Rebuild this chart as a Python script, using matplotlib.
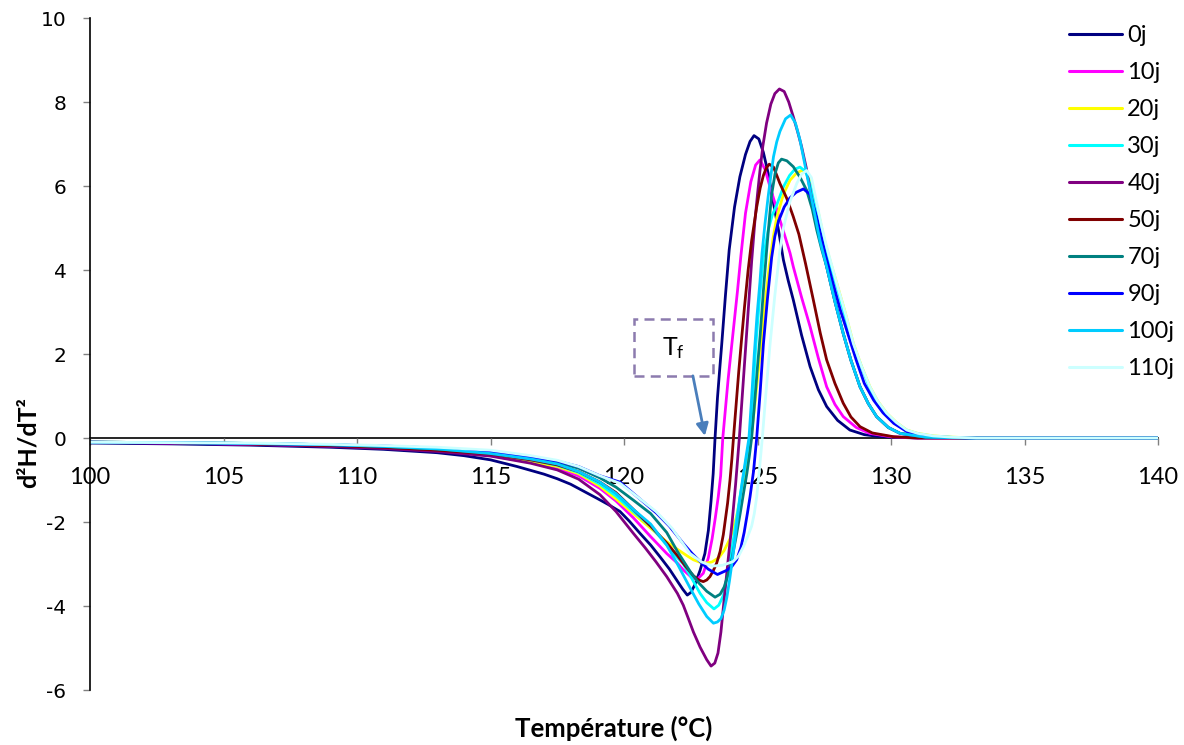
import matplotlib
matplotlib.use("Agg")
import matplotlib.pyplot as plt
from matplotlib.patches import Rectangle

plt.rcParams['font.family'] = ['Lato', 'DejaVu Sans']

labels = ['0j', '10j', '20j', '30j', '40j', '50j', '70j', '90j', '100j', '110j']
colors = ['#000080', '#FF00FF', '#FFFF00', '#00FFFF', '#800080',
          '#800000', '#008080', '#0000FF', '#00CCFF', '#CCFFFF']

t_0j = [100, 103, 106, 109, 111, 113, 114, 115, 116, 117, 117.5, 118, 118.5, 119, 119.4, 119.85, 120.2, 120.6, 121.0, 121.35,
        121.7, 121.97, 122.2, 122.37, 122.5, 122.65, 122.85, 123.03, 123.16, 123.26, 123.34, 123.41, 123.5, 123.58, 123.66,
        123.8, 123.94, 124.14, 124.34, 124.55, 124.72, 124.87, 125.05, 125.22, 125.4, 125.6, 125.8, 125.97, 126.15, 126.34,
        126.65, 126.97, 127.28, 127.59, 128.0, 128.46, 129.0, 129.5, 130.0, 131, 133, 136, 140]
v_0j = [-0.12, -0.14, -0.17, -0.22, -0.27, -0.35, -0.42, -0.52, -0.68, -0.86, -0.97, -1.1, -1.27, -1.44, -1.58, -1.75, -1.98,
        -2.27, -2.55, -2.83, -3.12, -3.38, -3.6, -3.74, -3.68, -3.5, -3.15, -2.75, -2.2, -1.5, -0.85, 0.0, 0.95, 1.6, 2.23,
        3.4, 4.48, 5.5, 6.22, 6.75, 7.06, 7.2, 7.12, 6.8, 6.3, 5.59, 4.9, 4.24, 3.75, 3.29, 2.45, 1.70, 1.15, 0.75, 0.42,
        0.19, 0.08, 0.04, 0.02, 0.0, 0.0, 0.0, 0.0]

t_10j = [100, 103, 106, 109, 111, 113, 115, 116.5, 117.5, 118.3, 119.1, 119.7, 120.35, 121.0, 121.6, 122.0, 122.22, 122.5,
         122.72, 122.97, 123.16, 123.3, 123.42, 123.53, 123.62, 123.7, 123.8, 123.9, 124.0, 124.1, 124.25, 124.38, 124.55,
         124.75, 124.93, 125.09, 125.28, 125.47, 125.65, 125.84, 126.03, 126.22, 126.34, 126.65, 126.97, 127.28, 127.59,
         127.9, 128.21, 128.7, 129.2, 130.0, 131, 133, 136, 140]
v_10j = [-0.1, -0.12, -0.15, -0.19, -0.23, -0.3, -0.42, -0.58, -0.72, -0.9, -1.2, -1.5, -1.9, -2.35, -2.75, -2.98, -3.14,
         -3.3, -3.38, -3.22, -2.85, -2.4, -1.9, -1.4, -0.9, 0.0, 0.7, 1.4, 2.0, 2.6, 3.5, 4.35, 5.35, 6.1, 6.5, 6.62, 6.4,
         5.98, 5.6, 5.19, 4.8, 4.4, 4.08, 3.35, 2.65, 1.9, 1.22, 0.8, 0.51, 0.25, 0.11, 0.03, 0, 0, 0, 0]

t_20j = [100, 103, 106, 109, 111, 113, 115, 116.5, 117.5, 118.3, 119.1, 119.7, 120.35, 121.0, 121.6, 122.0, 122.35, 122.6,
         122.85, 123.05, 123.3, 123.55, 123.75, 123.97, 124.1, 124.22, 124.32, 124.41, 124.55, 124.68, 124.78, 124.9, 125.03,
         125.16, 125.3, 125.44, 125.58, 125.72, 125.97, 126.22, 126.45, 126.65, 126.85, 127.05, 127.25, 127.5, 127.75,
         127.97, 128.3, 128.59, 128.9, 129.21, 129.5, 129.84, 130.2, 130.59, 131.0, 131.58, 132.3, 133.2, 135, 140]
v_20j = [-0.1, -0.11, -0.13, -0.17, -0.21, -0.28, -0.4, -0.56, -0.68, -0.85, -1.15, -1.45, -1.8, -2.15, -2.47, -2.65, -2.8,
         -2.9, -2.96, -2.98, -2.95, -2.85, -2.68, -2.4, -2.15, -1.85, -1.55, -1.2, -0.8, -0.35, 0.1, 0.8, 1.6, 2.4, 3.3, 4.1,
         4.75, 5.25, 5.8, 6.14, 6.3, 6.37, 6.3, 5.95, 5.45, 4.72, 4.15, 3.68, 2.95, 2.25, 1.7, 1.22, 0.88, 0.59, 0.37, 0.19,
         0.11, 0.05, 0.02, 0.0, 0, 0]

t_30j = [100, 103, 106, 109, 111, 113, 115, 116.5, 117.5, 118.3, 119.1, 119.7, 120.35, 121.0, 121.6, 122.0, 122.22, 122.5,
         122.85, 123.1, 123.37, 123.55, 123.72, 123.9, 124.05, 124.2, 124.33, 124.45, 124.58, 124.72, 124.83, 124.94, 125.08,
         125.22, 125.4, 125.55, 125.72, 125.97, 126.2, 126.4, 126.59, 126.8, 127.0, 127.25, 127.5, 127.75, 128.0, 128.3,
         128.59, 128.9, 129.21, 129.5, 129.84, 130.2, 130.59, 131.0, 131.58, 132.3, 133.2, 135, 140]
v_30j = [-0.1, -0.11, -0.13, -0.16, -0.2, -0.27, -0.38, -0.52, -0.65, -0.82, -1.1, -1.38, -1.75, -2.1, -2.55, -2.85, -3.0,
         -3.3, -3.7, -3.92, -4.07, -3.98, -3.75, -3.2, -2.6, -2.0, -1.45, -1.0, -0.5, 0.0, 1.1, 2.23, 3.35, 4.3, 4.95, 5.3,
         5.55, 5.98, 6.25, 6.4, 6.45, 6.35, 6.0, 5.35, 4.6, 4.05, 3.55, 2.85, 2.2, 1.68, 1.18, 0.85, 0.56, 0.35, 0.18, 0.1,
         0.04, 0.015, 0, 0, 0]

t_40j = [100, 103, 106, 109, 111, 113, 115, 116.5, 117.5, 118.3, 119.1, 119.7, 120.35, 120.8, 121.2, 121.6, 122.0, 122.22,
         122.4, 122.6, 122.85, 123.1, 123.26, 123.4, 123.52, 123.63, 123.75, 123.9, 124.05, 124.18, 124.32, 124.44, 124.55,
         124.67, 124.78, 124.9, 125.0, 125.09, 125.2, 125.34, 125.5, 125.65, 125.82, 126.0, 126.17, 126.34, 126.5, 126.65,
         126.82, 127.0, 127.3, 127.59, 127.9, 128.21, 128.5, 128.84, 129.15, 129.46, 129.9, 130.34, 131.3, 133, 136, 140]
v_40j = [-0.1, -0.12, -0.15, -0.2, -0.25, -0.32, -0.43, -0.6, -0.76, -0.98, -1.35, -1.75, -2.27, -2.62, -2.95, -3.3, -3.7,
         -3.98, -4.28, -4.62, -4.98, -5.28, -5.43, -5.36, -5.12, -4.62, -3.85, -2.9, -2.0, -1.1, 0.0, 1.1, 2.1, 3.2, 4.2, 5.15,
         5.8, 6.35, 6.95, 7.5, 7.95, 8.2, 8.31, 8.25, 8.0, 7.65, 7.3, 6.94, 6.45, 5.8, 4.9, 4.08, 3.25, 2.49, 1.85, 1.22,
         0.82, 0.51, 0.25, 0.11, 0.02, 0, 0, 0]

t_50j = [100, 103, 106, 109, 111, 113, 115, 116.5, 117.5, 118.3, 119.1, 119.7, 120.35, 121.0, 121.6, 122.0, 122.3, 122.6,
         122.8, 122.97, 123.1, 123.22, 123.35, 123.47, 123.6, 123.72, 123.88, 123.97, 124.04, 124.1, 124.2, 124.3, 124.41,
         124.51, 124.65, 124.78, 124.97, 125.1, 125.22, 125.33, 125.44, 125.6, 125.84, 126.1, 126.34, 126.55, 126.8, 127.09,
         127.35, 127.59, 127.9, 128.21, 128.5, 128.84, 129.3, 130.1, 131, 133, 136, 140]
v_50j = [-0.1, -0.11, -0.14, -0.18, -0.22, -0.29, -0.38, -0.52, -0.64, -0.8, -1.05, -1.3, -1.7, -2.1, -2.5, -2.8, -3.05,
         -3.28, -3.38, -3.42, -3.38, -3.3, -3.15, -2.98, -2.7, -2.3, -1.55, -1.0, -0.5, 0.0, 0.8, 1.6, 2.4, 3.1, 4.0, 4.7,
         5.5, 5.95, 6.25, 6.43, 6.52, 6.45, 6.06, 5.7, 5.27, 4.85, 4.15, 3.29, 2.5, 1.86, 1.3, 0.83, 0.5, 0.27, 0.12, 0.03,
         0, 0, 0, 0]

t_70j = [100, 103, 106, 109, 111, 113, 115, 116.5, 117.5, 118.3, 119.1, 119.7, 120.35, 121.0, 121.6, 122.0, 122.5, 122.8,
         123.1, 123.41, 123.6, 123.75, 123.9, 124.05, 124.2, 124.35, 124.48, 124.6, 124.7, 124.78, 124.9, 125.0, 125.1,
         125.22, 125.34, 125.45, 125.53, 125.66, 125.78, 125.9, 126.1, 126.34, 126.6, 126.84, 127.05, 127.22, 127.4, 127.59,
         127.9, 128.21, 128.5, 128.84, 129.15, 129.46, 129.9, 130.34, 131.3, 133, 136, 140]
v_70j = [-0.1, -0.11, -0.13, -0.16, -0.2, -0.26, -0.35, -0.48, -0.58, -0.72, -0.95, -1.17, -1.48, -1.8, -2.25, -2.7, -3.2,
         -3.45, -3.65, -3.79, -3.72, -3.55, -3.25, -2.85, -2.35, -1.8, -1.3, -0.85, -0.4, 0.0, 0.9, 1.7, 2.45, 3.5, 4.45,
         5.25, 5.8, 6.3, 6.55, 6.64, 6.6, 6.46, 6.2, 5.9, 5.45, 4.95, 4.5, 4.08, 3.25, 2.49, 1.85, 1.22, 0.82, 0.51, 0.25,
         0.11, 0.02, 0, 0, 0]

t_90j = [100, 103, 106, 109, 111, 113, 115, 116.5, 117.5, 118.3, 119.1, 119.85, 120.5, 121.22, 121.7, 122.22, 122.55, 122.85,
         123.15, 123.5, 123.85, 124.05, 124.22, 124.38, 124.5, 124.62, 124.72, 124.85, 124.97, 125.1, 125.22, 125.37, 125.53,
         125.65, 125.78, 126.0, 126.22, 126.45, 126.72, 126.97, 127.22, 127.55, 127.8, 128.1, 128.4, 128.7, 129.0, 129.35,
         129.7, 130.1, 130.6, 131.5, 133, 136, 140]
v_90j = [-0.1, -0.11, -0.13, -0.16, -0.19, -0.24, -0.33, -0.45, -0.55, -0.68, -0.9, -1.05, -1.4, -1.79, -2.1, -2.51, -2.75,
         -2.94, -3.12, -3.25, -3.15, -3.05, -2.9, -2.6, -2.25, -1.8, -1.4, -0.8, 0.0, 1.1, 2.23, 3.3, 4.3, 4.8, 5.15, 5.5,
         5.72, 5.85, 5.93, 5.8, 5.25, 4.35, 3.75, 3.05, 2.45, 1.85, 1.3, 0.9, 0.6, 0.35, 0.15, 0.03, 0, 0, 0]

t_100j = [100, 103, 106, 109, 111, 113, 115, 116.5, 117.5, 118.3, 119.1, 119.7, 120.35, 121.0, 121.6, 122.0, 122.5, 122.8,
          123.1, 123.35, 123.5, 123.63, 123.75, 123.85, 123.95, 124.05, 124.15, 124.25, 124.35, 124.45, 124.57, 124.68,
          124.78, 124.88, 124.98, 125.09, 125.17, 125.28, 125.4, 125.5, 125.6, 125.72, 125.84, 126.05, 126.24, 126.42,
          126.59, 126.84, 127.09, 127.34, 127.59, 127.9, 128.21, 128.5, 128.84, 129.15, 129.46, 129.9, 130.34, 131.3, 133,
          136, 140]
v_100j = [-0.1, -0.11, -0.13, -0.16, -0.2, -0.26, -0.37, -0.5, -0.62, -0.8, -1.05, -1.32, -1.7, -2.05, -2.55, -3.0, -3.6,
          -3.95, -4.25, -4.41, -4.38, -4.3, -4.1, -3.8, -3.4, -2.95, -2.45, -1.9, -1.4, -0.95, -0.45, 0.0, 0.95, 2.0, 2.9,
          3.7, 4.4, 5.1, 5.75, 6.25, 6.7, 7.05, 7.3, 7.6, 7.69, 7.5, 7.1, 6.3, 5.5, 4.7, 4.08, 3.25, 2.49, 1.85, 1.22, 0.82,
          0.51, 0.25, 0.11, 0.02, 0, 0, 0]

t_110j = [100, 103, 106, 109, 111, 113, 115, 116.5, 117.5, 118.3, 119.1, 119.85, 120.5, 121.2, 121.8, 122.47, 122.9, 123.3,
          123.7, 124.09, 124.3, 124.47, 124.63, 124.78, 124.88, 124.97, 125.08, 125.18, 125.32, 125.47, 125.65, 125.84,
          125.97, 126.2, 126.47, 126.65, 126.84, 127.02, 127.22, 127.4, 127.59, 127.97, 128.3, 128.59, 128.9, 129.21, 129.5,
          129.84, 130.2, 130.59, 131.0, 131.58, 132.3, 133.2, 135, 140]
v_110j = [-0.1, -0.11, -0.12, -0.15, -0.18, -0.22, -0.29, -0.42, -0.53, -0.68, -0.9, -1.08, -1.4, -1.75, -2.15, -2.75,
          -2.95, -3.05, -3.03, -2.94, -2.8, -2.59, -2.35, -2.1, -1.8, -1.4, -0.7, 0.0, 1.1, 2.23, 3.4, 4.48, 5.0, 5.6, 6.06,
          6.28, 6.37, 6.2, 5.59, 5.05, 4.55, 3.68, 2.95, 2.25, 1.7, 1.22, 0.88, 0.59, 0.37, 0.19, 0.11, 0.05, 0.02, 0.0, 0, 0]

x_ticks = [100, 105, 110, 115, 120, 125, 130, 135, 140]
y_ticks = [-6, -4, -2, 0, 2, 4, 6, 8, 10]

series_t = [t_0j, t_10j, t_20j, t_30j, t_40j, t_50j, t_70j, t_90j, t_100j, t_110j]
series_v = [v_0j, v_10j, v_20j, v_30j, v_40j, v_50j, v_70j, v_90j, v_100j, v_110j]

W, H = 1184, 745
fig = plt.figure(figsize=(W / 100, H / 100), dpi=100)
ax = fig.add_axes([90 / W, 1 - 690 / H, (1158 - 90) / W, (690 - 18) / H])

for t, v, c, lab in zip(series_t, series_v, colors, labels):
    ax.plot(t, v, color=c, lw=2.0, label=lab, solid_joinstyle='round', solid_capstyle='round')

ax.set_xlim(100, 140)
ax.set_ylim(-6, 10)
ax.spines['top'].set_visible(False)
ax.spines['right'].set_visible(False)
ax.spines['bottom'].set_position(('data', 0))
ax.spines['bottom'].set_color('black')
ax.spines['left'].set_color('black')
ax.spines['bottom'].set_linewidth(1.2)
ax.spines['left'].set_linewidth(1.2)
ax.spines['bottom'].set_zorder(0.5)

ax.set_xticks(x_ticks)
ax.set_yticks(y_ticks)
ax.set_xticklabels([str(x) for x in x_ticks])
ax.set_yticklabels([str(y) for y in y_ticks])
ax.tick_params(axis='x', direction='out', length=5, width=1, color='#808080', pad=16, labelsize=17)
ax.tick_params(axis='y', direction='out', length=5, width=1, color='#808080', pad=12, labelsize=14.5)
for lbl in ax.get_xticklabels():
    lbl.set_fontfamily(['Lato'])
for lbl in ax.get_yticklabels():
    lbl.set_fontfamily(['DejaVu Sans'])

fig.text(28 / W, 1 - 443 / H, 'd²H/dT²', rotation=90, ha='center', va='center',
         fontweight='bold', fontsize=18, family=['Lato'])
fig.text(614 / W, 1 - 728 / H, 'Température (°C)', ha='center', va='center',
         fontweight='bold', fontsize=18.5, family=['Lato'])

# T_f annotation box and arrow
ax.add_patch(Rectangle((120.37, 1.48), 123.33 - 120.37, 2.83 - 1.48, fill=False,
                       edgecolor='#8C7BAE', lw=1.8, linestyle=(0, (4, 2.5)), zorder=5))
ax.text(121.85, 2.15, r'$\mathregular{T_f}$', ha='center', va='center', fontsize=18, zorder=6)
ax.annotate('', xy=(123.03, 0.05), xytext=(122.58, 1.48),
            arrowprops=dict(arrowstyle='-|>', color='#4A7EBB', lw=2, mutation_scale=18,
                            shrinkA=0, shrinkB=0), zorder=6)

leg = ax.legend(loc='upper left', bbox_to_anchor=(1069 / W, 1 - 25 / H), bbox_transform=fig.transFigure,
                frameon=False, fontsize=17, handlelength=2.25, handletextpad=0.22, labelspacing=0.68,
                borderpad=0, borderaxespad=0)
for line in leg.get_lines():
    line.set_linewidth(2.2)

fig.savefig('out.png', dpi=100)
